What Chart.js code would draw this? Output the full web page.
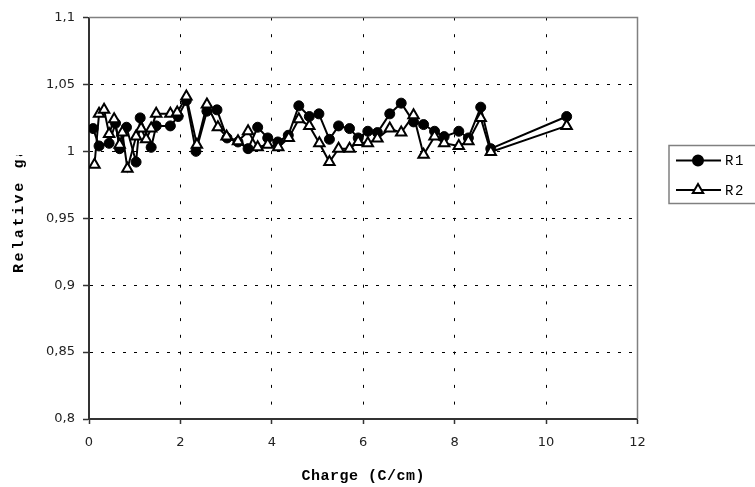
<!DOCTYPE html>
<html>
<head>
<meta charset="utf-8">
<script src="https://cdn.jsdelivr.net/npm/chart.js@4.4.0/dist/chart.umd.min.js"></script>
<style>
  html, body { margin: 0; padding: 0; background: #fff; }
  canvas { display: block; }
</style>
</head>
<body>
<canvas id="chart" width="755" height="487"></canvas>
<script>
// values
var chargeR1 = [0.09, 0.22, 0.44, 0.58, 0.67, 0.82, 1.03, 1.12, 1.36, 1.47, 1.78, 1.95, 2.13, 2.34, 2.58, 2.80,
  3.02, 3.26, 3.48, 3.69, 3.91, 4.13, 4.36, 4.59, 4.82, 5.03, 5.26, 5.46, 5.70, 5.89, 6.10, 6.31,
  6.58, 6.83, 7.10, 7.32, 7.56, 7.77, 8.09, 8.30, 8.57, 8.79, 10.45];
var gainR1 = [1.017, 1.004, 1.006, 1.021, 1.002, 1.018, 0.992, 1.025, 1.003, 1.019, 1.019, 1.026, 1.038, 1.000, 1.030, 1.031,
  1.010, 1.007, 1.002, 1.018, 1.010, 1.007, 1.012, 1.034, 1.026, 1.028, 1.009, 1.019, 1.017, 1.010, 1.015, 1.014,
  1.028, 1.036, 1.022, 1.020, 1.015, 1.011, 1.015, 1.010, 1.033, 1.002, 1.026];

var chargeR2 = [0.12, 0.22, 0.33, 0.44, 0.55, 0.67, 0.73, 0.84, 1.03, 1.14, 1.25, 1.36, 1.47, 1.78, 1.93, 2.13, 2.36,
  2.58, 2.82, 3.01, 3.26, 3.48, 3.69, 3.91, 4.14, 4.37, 4.59, 4.82, 5.04, 5.26, 5.46, 5.70, 5.89,
  6.10, 6.31, 6.58, 6.83, 7.10, 7.32, 7.56, 7.77, 8.09, 8.30, 8.57, 8.79, 10.45];
var gainR2 = [0.990, 1.028, 1.031, 1.013, 1.024, 1.005, 1.014, 0.987, 1.011, 1.017, 1.009, 1.017, 1.028, 1.028, 1.029, 1.041, 1.005,
  1.035, 1.018, 1.011, 1.0075, 1.015, 1.003, 1.005, 1.003, 1.010, 1.024, 1.019, 1.006, 0.992, 1.002, 1.002, 1.007,
  1.006, 1.0095, 1.017, 1.014, 1.027, 0.9975, 1.011, 1.006, 1.004, 1.0075, 1.025, 0.9995, 1.019];

var seriesNames = ['R1', 'R2'];
var xTitle = 'Charge (C/cm)';
var yTitle = 'Relative gain';

function pts(xs, ys) {
  return xs.map(function (x, i) { return { x: x, y: ys[i] }; });
}

// gray frame on top/right, titles and legend box
var extras = {
  id: 'extras',
  afterDraw: function (chart) {
    var c = chart.ctx, a = chart.chartArea;
    c.save();
    c.strokeStyle = '#808080';
    c.lineWidth = 1.5;
    c.beginPath();
    c.moveTo(a.left, a.top);
    c.lineTo(a.right, a.top);
    c.lineTo(a.right, a.bottom);
    c.stroke();

    // x title
    c.fillStyle = '#000';
    c.font = 'bold 15px "Liberation Mono", monospace';
    c.letterSpacing = '0.5px';
    c.textAlign = 'center';
    c.textBaseline = 'middle';
    c.fillText(xTitle, (a.left + a.right) / 2, 476);

    // y title, clipped at the top like the original
    c.save();
    c.beginPath();
    c.rect(0, 155, 60, 200);
    c.clip();
    c.translate(19, 273);
    c.rotate(-Math.PI / 2);
    c.letterSpacing = '2.6px';
    c.textAlign = 'left';
    c.fillText(yTitle, 0, 0);
    c.restore();

    // legend
    c.letterSpacing = '0px';
    c.strokeStyle = '#808080';
    c.lineWidth = 1.5;
    c.strokeRect(669, 145.5, 100, 58);
    var rows = [160.5, 190];
    chart.data.datasets.forEach(function (ds, i) {
      var y = rows[i];
      c.strokeStyle = '#000';
      c.lineWidth = 2;
      c.beginPath();
      c.moveTo(676, y);
      c.lineTo(721, y);
      c.stroke();
      c.lineWidth = 2;
      c.fillStyle = ds.pointBackgroundColor;
      c.strokeStyle = '#000';
      Chart.helpers.drawPoint(c, { pointStyle: ds.pointStyle, radius: ds.pointRadius, borderWidth: 2 }, 698, y);
      c.fillStyle = '#000';
      c.font = '14px "Liberation Mono", monospace';
      c.letterSpacing = '1.5px';
      c.textAlign = 'left';
      c.fillText(ds.label, 725, y + 1);
    });
    c.restore();
  }
};

new Chart(document.getElementById('chart'), {
  type: 'line',
  data: {
    datasets: [
      {
        label: seriesNames[0],
        data: pts(chargeR1, gainR1),
        borderColor: '#000',
        borderWidth: 2,
        pointStyle: 'circle',
        pointRadius: 5,
        pointBackgroundColor: '#000',
        pointBorderColor: '#000',
        pointBorderWidth: 1,
        tension: 0,
        order: 2
      },
      {
        label: seriesNames[1],
        data: pts(chargeR2, gainR2),
        borderColor: '#000',
        borderWidth: 2,
        pointStyle: 'triangle',
        pointRadius: 6,
        pointBackgroundColor: '#fff',
        pointBorderColor: '#000',
        pointBorderWidth: 2,
        tension: 0,
        order: 1
      }
    ]
  },
  options: {
    responsive: false,
    animation: false,
    layout: { padding: { left: 0, right: 117.5, top: 17.5, bottom: 0 } },
    plugins: { legend: { display: false }, tooltip: { enabled: false } },
    scales: {
      x: {
        type: 'linear',
        min: 0,
        max: 12,
        afterFit: function (s) { s.height = 68; },
        ticks: {
          stepSize: 2,
          padding: 11,
          color: '#222',
          font: { family: '"DejaVu Sans"', size: 13 }
        },
        grid: { color: '#000', lineWidth: 1, tickLength: 5, tickColor: '#333', tickWidth: 1.5 },
        border: { color: '#333', width: 2, dash: [3, 13.7] }
      },
      y: {
        min: 0.8,
        max: 1.1,
        afterFit: function (s) { s.width = 89; },
        ticks: {
          stepSize: 0.05,
          padding: 8,
          color: '#222',
          font: { family: '"DejaVu Sans"', size: 13 },
          callback: function (v) { return String(Math.round(v * 100) / 100).replace('.', ','); }
        },
        grid: { color: '#000', lineWidth: 1, tickLength: 6, tickColor: '#333', tickWidth: 1.5 },
        border: { color: '#333', width: 2, dash: [3, 8] }
      }
    }
  },
  plugins: [extras]
});
</script>
</body>
</html>
